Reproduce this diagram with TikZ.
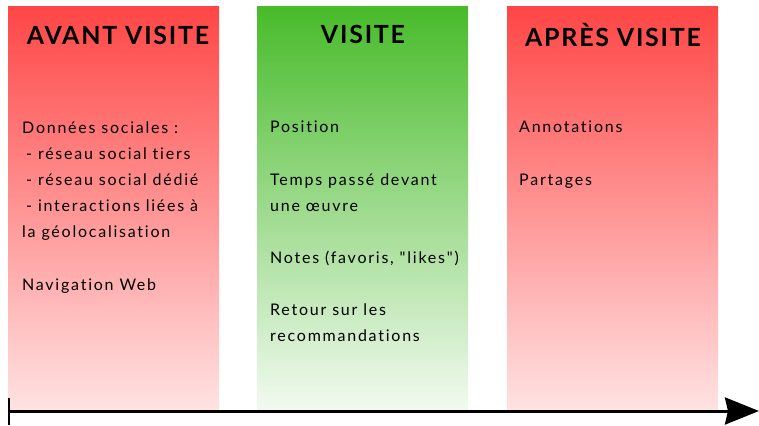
\documentclass[tikz,border=0pt]{standalone}
\usepackage{fontspec}
\setmainfont{Lato}
\newfontfamily\bodyfont[LetterSpace=11,Ligatures={NoCommon}]{Lato}
\newfontfamily\titlefont[LetterSpace=7]{Lato Bold}
\usetikzlibrary{arrows.meta}
\definecolor{redtop}{HTML}{FF4646}
\definecolor{redbot}{HTML}{FFE2E2}
\definecolor{greentop}{HTML}{48BB2A}
\definecolor{greenbot}{HTML}{F2FAF0}
\tikzset{
  phase/.style={minimum width=211pt, minimum height=402pt, anchor=north west, inner sep=0pt, outer sep=0pt},
  redphase/.style={phase, top color=redtop, bottom color=redbot},
  greenphase/.style={phase, top color=greentop, bottom color=greenbot},
  title/.style={anchor=base, inner sep=0pt, font=\titlefont\fontsize{25}{30}\selectfont},
  item/.style={anchor=base west, inner sep=0pt, align=left, font=\bodyfont\fontsize{16}{26}\selectfont},
  timeline/.style={line width=3pt, {Bar[width=27pt,line width=2pt]}-{Stealth[length=34pt,width=27pt,inset=3pt]}}
}
\newcommand{\myindent}{\hspace*{4pt}- }
\begin{document}
\begin{tikzpicture}[x=1pt,y=-1pt]
\useasboundingbox (0,0) rectangle (759,425);
\node[redphase] (avant) at (8,7) {};
\node[greenphase] (visite) at (257,7) {};
\node[redphase] (apres) at (507,7) {};
\node[title] (tavant) at (118,45) {AVANT VISITE};
\node[title] (tvisite) at (363,44) {VISITE};
\node[title] (tapres) at (613,47) {APRÈS VISITE};
\node[item] (a1) at (22,237) {Données sociales :\\\myindent réseau social tiers\\\myindent réseau social dédié\\\myindent interactions liées à\\la géolocalisation};
\node[item] (a2) at (22,290) {Navigation Web};
\node[item] (v1) at (270,132) {Position};
\node[item] (v2) at (270,211) {Temps passé devant\\une œuvre};
\node[item] (v3) at (270,263) {Notes (favoris, \symbol{34}likes\symbol{34})};
\node[item] (v4) at (270,341) {Retour sur les\\recommandations};
\node[item] (r1) at (519,132) {Annotations};
\node[item] (r2) at (519,185) {Partages};
\coordinate (tstart) at (8,411);
\coordinate (tend) at (759,411);
\draw[timeline] (tstart) -- (tend);
\end{tikzpicture}
\end{document}
